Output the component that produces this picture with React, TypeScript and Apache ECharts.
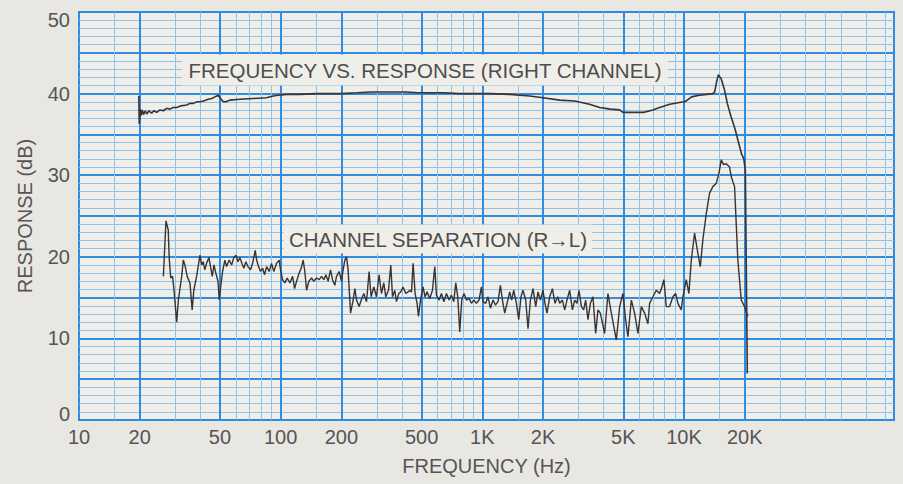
import React, { useEffect, useRef } from 'react';
import * as echarts from 'echarts';

const FONT = '"Liberation Sans", Arial, Helvetica, sans-serif';

const xTickValues = [10, 20, 50, 100, 200, 500, 1000, 2000, 5000, 10000, 20000];
const xTickLabels = ['10', '20', '50', '100', '200', '500', '1K', '2K', '5K', '10K', '20K'];
const yTickValues = [0, 10, 20, 30, 40, 50];

const majorFreqLines = [20, 50, 100, 200, 500, 1000, 2000, 5000, 10000, 20000];
const minorFreqLines = [
  15, 30, 40, 60, 70, 80, 90,
  150, 300, 400, 600, 700, 800, 900,
  1500, 3000, 4000, 6000, 7000, 8000, 9000,
  15000, 30000, 40000, 50000, 60000, 80000, 100000,
];

const titleResponse = 'FREQUENCY VS. RESPONSE (RIGHT CHANNEL)';
const titleSeparation = 'CHANNEL SEPARATION (R→L)';

// [frequency Hz, response dB]
const responseRight: [number, number][] = [
  [19.8, 39.7], [19.9, 36.3], [20.1, 38.1], [20.3, 37.3], [20.6, 38.0], [20.9, 37.4],
  [21.3, 37.9], [21.7, 37.5], [22.2, 37.9], [22.9, 37.6], [23.5, 37.9], [24.3, 37.7],
  [25.2, 38.0], [26.2, 37.9], [27.2, 38.2], [28.2, 38.1], [29.3, 38.3], [30.5, 38.3],
  [32, 38.5], [34.2, 38.6], [35.5, 38.8], [36.9, 38.8], [38.5, 39.0], [39.8, 39.0],
  [41.5, 39.1], [43.7, 39.3], [45.5, 39.4], [47.2, 39.6], [49, 39.8], [50, 39.5],
  [51.9, 39.0], [53.5, 39.0], [56, 39.2], [62.8, 39.3], [73, 39.4], [85, 39.5],
  [91.8, 39.7], [97, 39.8], [107, 39.9], [125, 39.9], [150, 40.0], [175, 40.0],
  [200, 40.0], [240, 40.1], [280, 40.2], [350, 40.2], [420, 40.2], [480, 40.1],
  [560, 40.1], [650, 40.1], [770, 40.0], [900, 40.0], [1000, 40.0], [1100, 40.0],
  [1370, 39.9], [1720, 39.7], [2000, 39.5], [2420, 39.2], [2870, 39.1], [3400, 38.7],
  [3820, 38.3], [4300, 38.1], [4800, 38.0], [4980, 37.7], [5500, 37.7], [6300, 37.7],
  [7000, 38.0], [7570, 38.3], [8500, 38.7], [9500, 38.9], [10100, 39.0], [10500, 39.3],
  [10900, 39.6], [11900, 39.8], [13000, 39.9], [13900, 40.0], [14200, 40.2], [14500, 41.4],
  [14800, 42.3], [15300, 41.8], [15900, 40.4], [16400, 38.8], [17100, 37.2], [17900, 35.7],
  [18600, 34.1], [19300, 32.6], [19800, 32.0], [20150, 30.6], [20350, 19.6], [20600, 5.7],
];

// [frequency Hz, separation dB]
const channelSeparation: [number, number][] = [
  [26.2, 17.6], [27.0, 24.4], [27.7, 23.3], [28.0, 19.9], [28.5, 17.4], [29.1, 17.6],
  [29.6, 15.9], [30.5, 12.0], [31.1, 14.7], [32.3, 17.6], [32.9, 19.6], [33.5, 19.0],
  [34.4, 17.6], [35.5, 16.8], [36.4, 13.5], [37.1, 15.9], [38.3, 17.6], [39.8, 20.2],
  [40.6, 19.0], [41.3, 19.4], [42.1, 18.4], [42.9, 19.2], [44.1, 19.9], [44.9, 18.8],
  [45.8, 17.6], [46.7, 19.0], [47.7, 18.0], [48.9, 17.0], [49.6, 14.7], [50.4, 16.3],
  [51.5, 18.2], [52.9, 19.6], [53.9, 18.8], [55.6, 19.6], [57.1, 19.0], [58.6, 19.9],
  [60.0, 20.2], [61.4, 19.4], [62.8, 19.9], [64.2, 19.2], [65.7, 18.6], [67.2, 19.4],
  [68.8, 18.8], [70.9, 18.4], [72.6, 19.2], [74.8, 20.8], [76.0, 19.6], [77.7, 18.8],
  [79.5, 18.2], [81.4, 18.6], [83.2, 17.8], [85.2, 18.8], [87.7, 18.2], [90.1, 19.2],
  [92.5, 18.2], [95.4, 19.2], [98.3, 19.6], [99.9, 18.4], [102.2, 17.2], [104.9, 16.8],
  [107.7, 17.4], [111.1, 16.8], [114.6, 17.6], [117.2, 16.1], [119.9, 17.0], [123.5, 18.0],
  [126.4, 18.6], [129.3, 19.6], [131.8, 18.2], [134.4, 15.9], [138.0, 17.0], [142.3, 17.4],
  [146.1, 17.0], [150.6, 17.4], [155.2, 17.2], [159.5, 17.6], [163.7, 17.2], [167.5, 17.8],
  [172.0, 17.0], [176.7, 18.4], [180.8, 17.2], [185.6, 16.5], [189.2, 17.6], [195.0, 18.2],
  [200.4, 17.0], [204, 18.4], [208.1, 19.6], [212.2, 20.0], [216, 18.4], [222.1, 13.1],
  [228.8, 14.7], [233.3, 16.1], [237.8, 14.7], [244.9, 13.9], [251, 14.7], [258.4, 15.5],
  [266.5, 14.5], [274.5, 18.2], [280.9, 15.1], [289.6, 16.3], [298.7, 15.1], [307.7, 17.8],
  [316.2, 15.5], [324.6, 16.8], [332.1, 15.1], [342.5, 15.9], [351.6, 19.0], [358.6, 15.1],
  [368.1, 15.9], [375.3, 14.5], [385.3, 15.5], [394.2, 15.7], [404.6, 16.3], [417.3, 15.5],
  [428.4, 15.7], [436.8, 15.9], [445.4, 15.7], [453.6, 19.2], [464.1, 15.5], [474.8, 14.3],
  [482.5, 12.7], [493.6, 14.7], [508.5, 16.3], [520.2, 15.1], [532.2, 15.7], [548.6, 14.9],
  [565.9, 15.9], [580.9, 18.8], [592.3, 15.3], [610.1, 14.7], [627.1, 15.5], [643.8, 14.5],
  [664.0, 15.5], [683.9, 14.7], [703.0, 15.3], [721.7, 14.5], [738.4, 16.8], [755.4, 15.1],
  [772.7, 10.8], [790.6, 14.7], [811.6, 15.5], [834.2, 14.7], [859.3, 14.9], [883.1, 14.3],
  [906.6, 14.7], [935.0, 14.3], [963.2, 14.7], [989.7, 16.3], [1008, 14.5], [1039, 14.3],
  [1067, 15.1], [1097, 13.7], [1130, 14.7], [1161, 14.1], [1196, 14.5], [1229, 16.5],
  [1258, 14.7], [1291, 13.1], [1326, 14.3], [1367, 15.7], [1398, 14.7], [1431, 15.9],
  [1476, 14.3], [1515, 12.3], [1555, 15.1], [1591, 15.9], [1641, 14.7], [1685, 11.2],
  [1732, 14.7], [1784, 16.1], [1840, 13.9], [1888, 15.7], [1941, 14.7], [1999, 15.9],
  [2045, 14.3], [2092, 13.1], [2158, 15.1], [2226, 16.1], [2293, 14.3], [2364, 15.1],
  [2419, 14.3], [2495, 14.7], [2561, 13.5], [2629, 14.7], [2711, 15.9], [2797, 13.5],
  [2871, 14.7], [2947, 14.3], [3015, 15.9], [3099, 13.9], [3181, 13.5], [3254, 14.7],
  [3341, 12.3], [3434, 14.3], [3537, 15.1], [3648, 10.6], [3745, 13.5], [3849, 13.1],
  [4041, 10.6], [4197, 15.5], [4363, 13.1], [4619, 9.8], [4797, 13.9], [4981, 15.5],
  [5136, 12.3], [5272, 10.2], [5481, 14.7], [5691, 13.1], [5910, 10.6], [6143, 13.9],
  [6380, 13.1], [6624, 11.8], [6753, 14.3], [7013, 15.1], [7290, 15.9], [7571, 15.5],
  [7772, 16.3], [7951, 17.2], [8172, 13.9], [8486, 13.9], [8810, 15.1], [9086, 15.5],
  [9329, 14.3], [9696, 13.5], [9876, 15.1], [10266, 17.2], [10576, 15.5], [10870, 19.6],
  [11285, 22.9], [11720, 20.4], [12045, 18.8], [12407, 22.1], [12898, 25.3], [13393, 27.8],
  [13907, 28.6], [14457, 29.0], [14893, 30.2], [15305, 31.9], [15711, 31.3], [16204, 31.4],
  [16827, 31.0], [17155, 29.8], [17815, 28.6], [18497, 19.6], [19227, 14.7], [19970, 13.9],
  [20740, 12.7],
];

const MAJOR_BLUE = '#2f8ce0';
const MINOR_BLUE = '#8cc3ee';
const PLOT_BG = '#f0eee9';
const TEXT = '#555555';
const INK = '#3b3232';

function xLabelFor(v: number): string {
  for (let i = 0; i < xTickValues.length; i++) {
    if (Math.abs(v - xTickValues[i]) / xTickValues[i] < 1e-6) return xTickLabels[i];
  }
  return '';
}

export default function App() {
  const ref = useRef<HTMLDivElement>(null);

  useEffect(() => {
    if (!ref.current) return;
    const chart = echarts.init(ref.current, undefined, { renderer: 'svg' });
    const option: any = {
      animation: false,
      backgroundColor: '#e8e7e2',
      grid: {
        left: 79, right: 9, top: 12, bottom: 64,
        show: true, backgroundColor: PLOT_BG, borderColor: MAJOR_BLUE, borderWidth: 2,
      },
      xAxis: {
        type: 'log', logBase: 10, min: 10, max: 110000,
        name: 'FREQUENCY (Hz)', nameLocation: 'middle', nameGap: 36,
        nameTextStyle: { fontSize: 20, color: TEXT, fontFamily: FONT },
        axisLine: { show: false }, axisTick: { show: false },
        splitLine: { show: false }, minorSplitLine: { show: false },
        axisLabel: {
          customValues: xTickValues,
          formatter: (v: number) => xLabelFor(v),
          fontSize: 20, color: TEXT, fontFamily: FONT, margin: 7,
        },
      },
      yAxis: {
        type: 'value', min: 0, max: 50, interval: 5,
        name: 'RESPONSE (dB)', nameLocation: 'middle', nameGap: 44,
        nameTextStyle: { fontSize: 20, color: TEXT, fontFamily: FONT },
        axisLine: { show: false }, axisTick: { show: false },
        splitLine: { show: true, lineStyle: { color: MAJOR_BLUE, width: 2 } },
        minorTick: { show: false, splitNumber: 5 },
        minorSplitLine: { show: true, lineStyle: { color: MINOR_BLUE, width: 1 } },
        axisLabel: {
          margin: 9, fontSize: 20, color: TEXT, fontFamily: FONT,
          formatter: (v: number) => {
            if (yTickValues.indexOf(v) < 0) return '';
            if (v === 50) return '{t|' + v + '}';
            if (v === 0) return '{b|' + v + '}';
            return String(v);
          },
          rich: {
            t: { fontSize: 20, color: TEXT, fontFamily: FONT, padding: [16, 0, 0, 0] },
            b: { fontSize: 20, color: TEXT, fontFamily: FONT, padding: [0, 0, 12, 0] },
          },
        },
      },
      graphic: [
        {
          type: 'text', x: 425, y: 70, z: 50,
          style: {
            text: titleResponse, fontSize: 20.5, fontFamily: FONT, fill: '#4d4d4d',
            align: 'center', verticalAlign: 'middle', backgroundColor: PLOT_BG, padding: [5, 6],
          },
        },
        {
          type: 'text', x: 438, y: 239, z: 50,
          style: {
            text: titleSeparation, fontSize: 20.5, fontFamily: FONT, fill: '#4d4d4d',
            align: 'center', verticalAlign: 'middle', backgroundColor: PLOT_BG, padding: [4, 5],
          },
        },
      ],
      series: [
        {
          type: 'line', name: 'minorGrid', data: [], symbol: 'none', silent: true, z: 1,
          markLine: {
            silent: true, z: 1, symbol: ['none', 'none'], label: { show: false }, animation: false,
            lineStyle: { color: MINOR_BLUE, width: 1, type: 'solid' },
            data: minorFreqLines.map((f) => ({ xAxis: f })),
          },
        },
        {
          type: 'line', name: 'majorGrid', data: [], symbol: 'none', silent: true, z: 1,
          markLine: {
            silent: true, z: 2, symbol: ['none', 'none'], label: { show: false }, animation: false,
            lineStyle: { color: MAJOR_BLUE, width: 2, type: 'solid' },
            data: majorFreqLines.map((f) => ({ xAxis: f })),
          },
        },
        {
          type: 'line', name: 'Frequency vs. response (right channel)', data: responseRight,
          symbol: 'none', showSymbol: false, z: 10,
          lineStyle: { color: INK, width: 1.6 },
        },
        {
          type: 'line', name: 'Channel separation (R→L)', data: channelSeparation,
          symbol: 'none', showSymbol: false, z: 10,
          lineStyle: { color: INK, width: 1.4 },
        },
      ],
    };
    chart.setOption(option);
    return () => chart.dispose();
  }, []);

  return (
    <div
      ref={ref}
      style={{ position: 'absolute', left: 0, top: 0, width: 903, height: 484 }}
    />
  );
}
